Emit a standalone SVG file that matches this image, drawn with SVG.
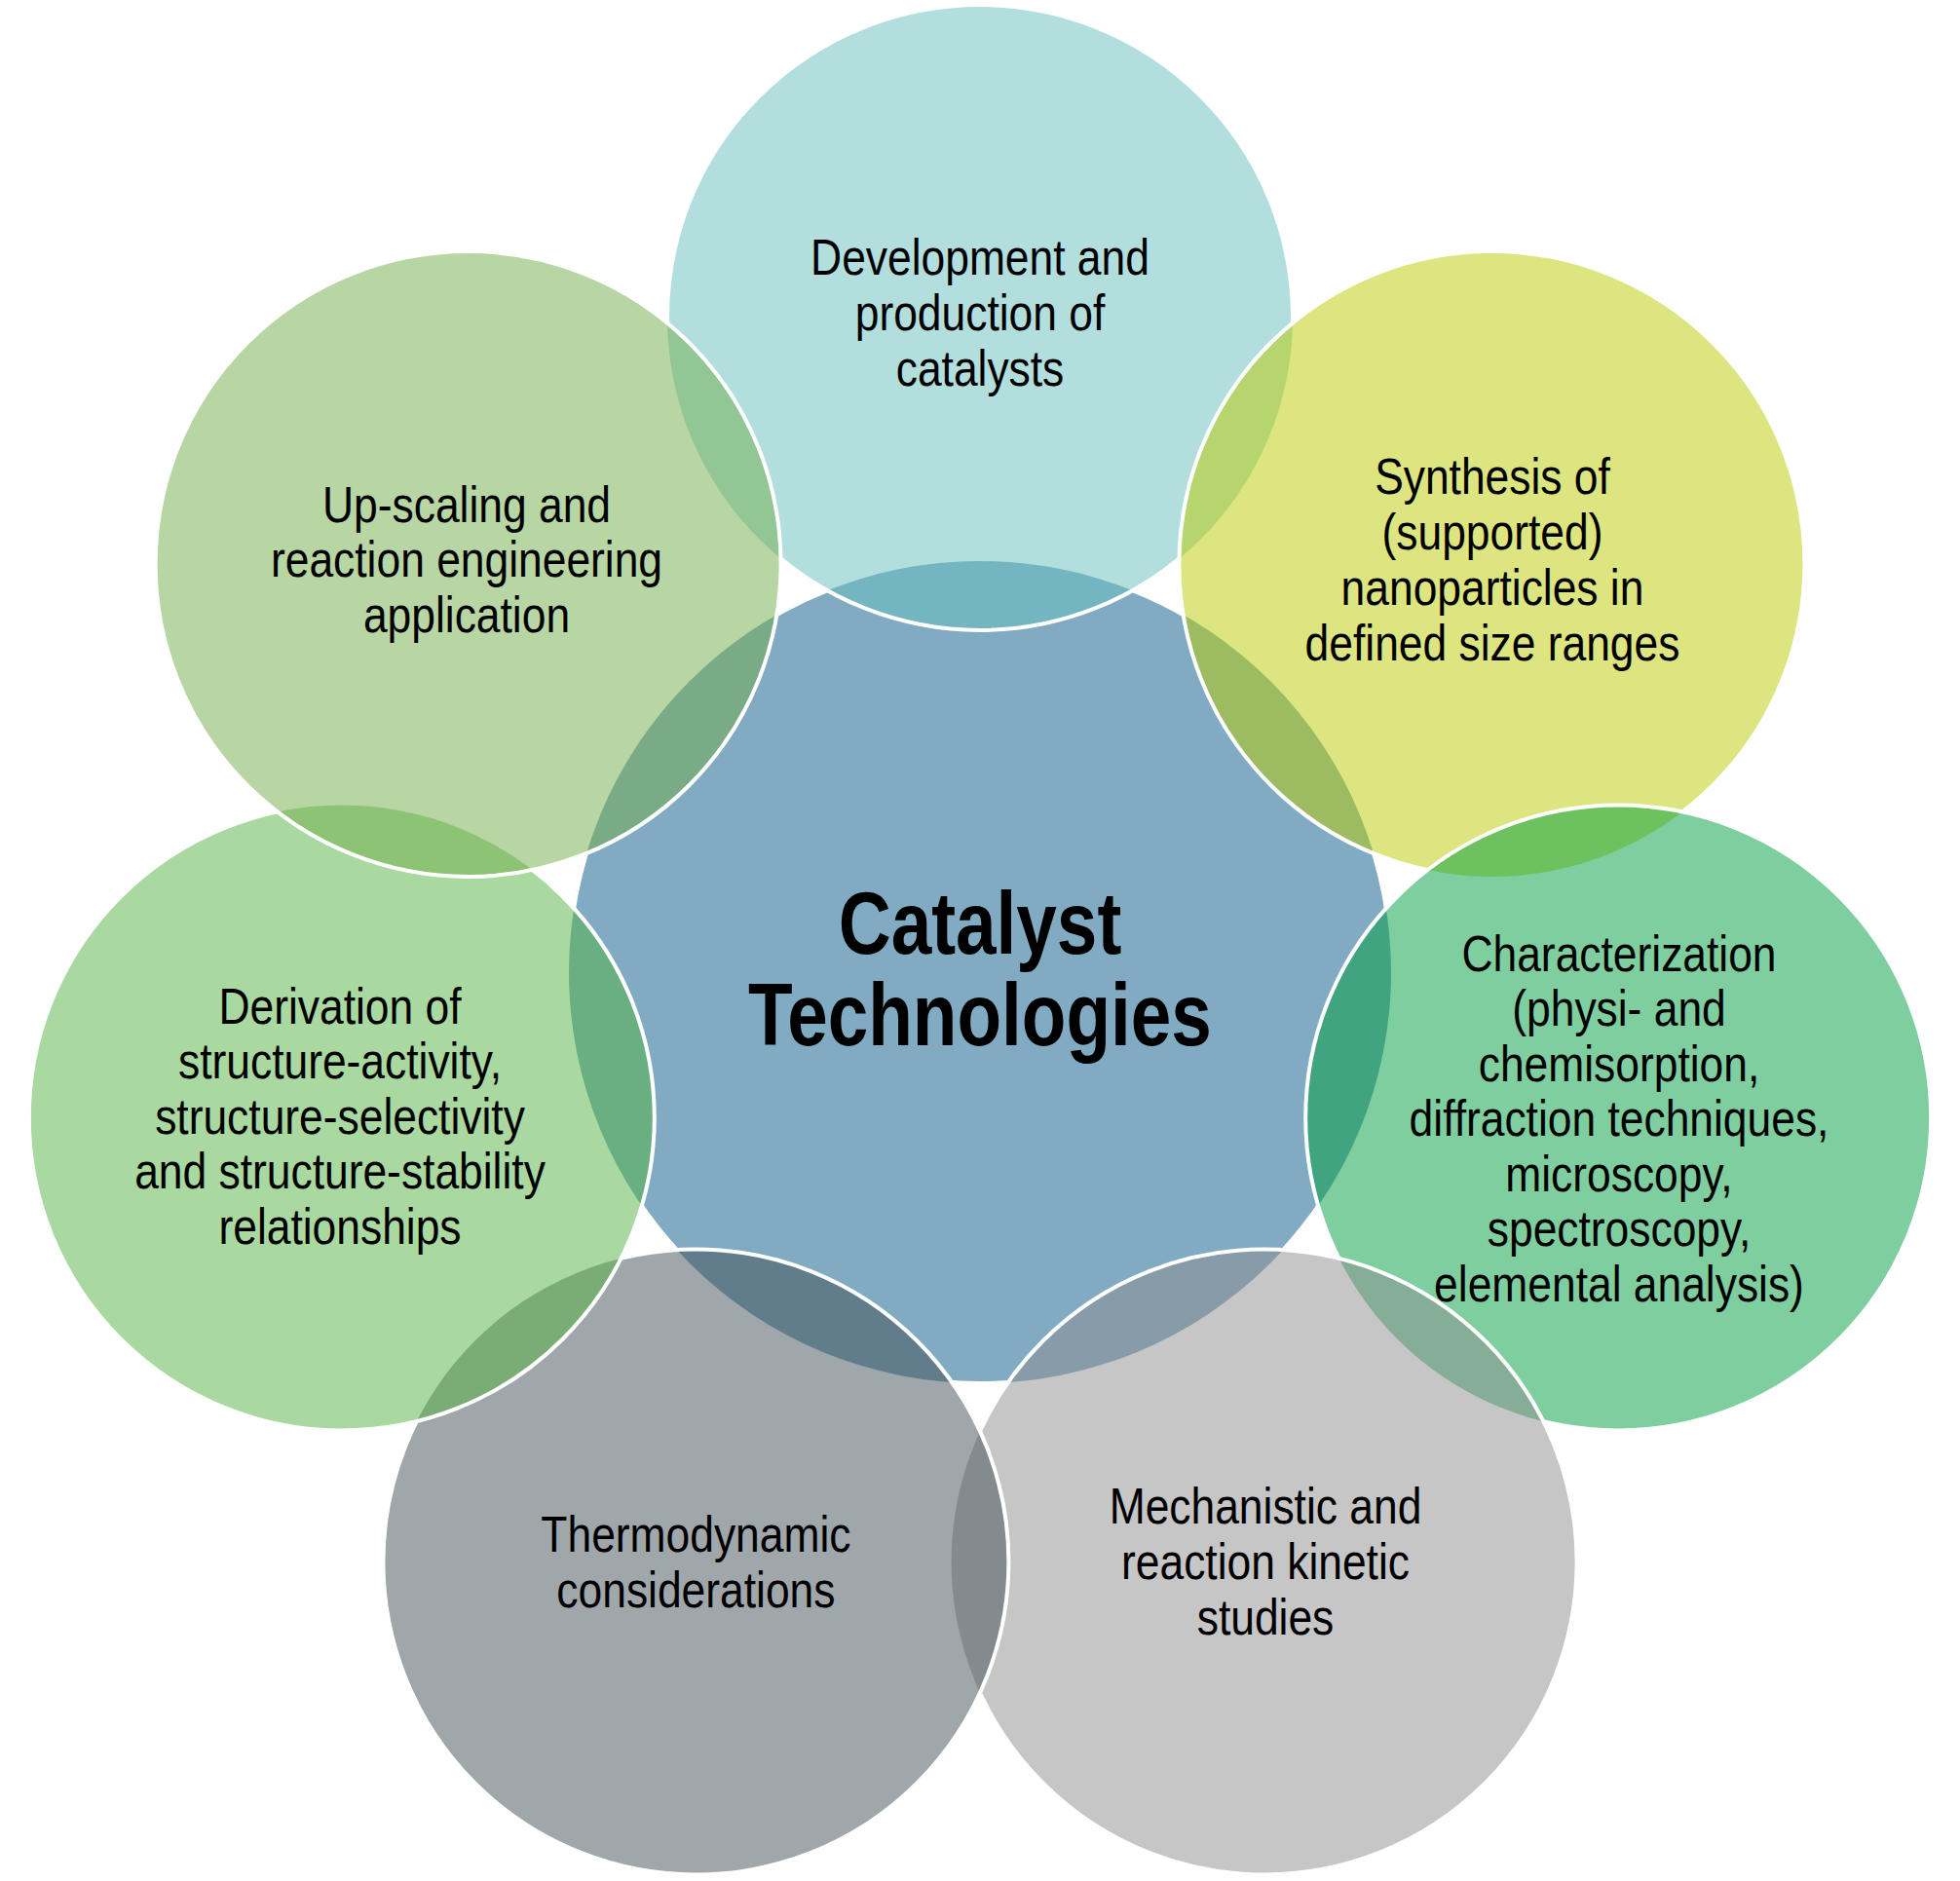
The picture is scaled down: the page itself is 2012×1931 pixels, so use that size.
<svg xmlns="http://www.w3.org/2000/svg" width="2012" height="1931" viewBox="0 0 2012 1931">
<style>
.fill{stroke:none;fill-opacity:0.5}
.edge{fill:none;stroke:#FFFFFF;stroke-width:4}
.lbl{font-family:"Liberation Sans",Arial,sans-serif;font-size:51px;fill:#000000;text-anchor:middle}
.title{font-family:"Liberation Sans",Arial,sans-serif;font-size:90px;font-weight:bold;fill:#000000;text-anchor:middle}
</style>
<defs>
<mask id="m0" maskUnits="userSpaceOnUse" x="0" y="0" width="2012" height="1931">
<rect width="2012" height="1931" fill="#fff"/>
<circle cx="1006" cy="326" r="321"/><circle cx="1531.4" cy="579" r="321"/><circle cx="1661.2" cy="1147.5" r="321"/><circle cx="1297.6" cy="1603.5" r="321"/><circle cx="714.4" cy="1603.5" r="321"/><circle cx="350.8" cy="1147.5" r="321"/><circle cx="480.6" cy="579" r="321"/>
</mask>
<mask id="m1" maskUnits="userSpaceOnUse" x="0" y="0" width="2012" height="1931">
<rect width="2012" height="1931" fill="#fff"/>
<circle cx="1531.4" cy="579" r="321"/><circle cx="1661.2" cy="1147.5" r="321"/><circle cx="1297.6" cy="1603.5" r="321"/><circle cx="714.4" cy="1603.5" r="321"/><circle cx="350.8" cy="1147.5" r="321"/><circle cx="480.6" cy="579" r="321"/>
</mask>
<mask id="m2" maskUnits="userSpaceOnUse" x="0" y="0" width="2012" height="1931">
<rect width="2012" height="1931" fill="#fff"/>
<circle cx="1661.2" cy="1147.5" r="321"/><circle cx="1297.6" cy="1603.5" r="321"/><circle cx="714.4" cy="1603.5" r="321"/><circle cx="350.8" cy="1147.5" r="321"/><circle cx="480.6" cy="579" r="321"/>
</mask>
<mask id="m3" maskUnits="userSpaceOnUse" x="0" y="0" width="2012" height="1931">
<rect width="2012" height="1931" fill="#fff"/>
<circle cx="1297.6" cy="1603.5" r="321"/><circle cx="714.4" cy="1603.5" r="321"/><circle cx="350.8" cy="1147.5" r="321"/><circle cx="480.6" cy="579" r="321"/>
</mask>
<mask id="m4" maskUnits="userSpaceOnUse" x="0" y="0" width="2012" height="1931">
<rect width="2012" height="1931" fill="#fff"/>
<circle cx="714.4" cy="1603.5" r="321"/><circle cx="350.8" cy="1147.5" r="321"/><circle cx="480.6" cy="579" r="321"/>
</mask>
<mask id="m5" maskUnits="userSpaceOnUse" x="0" y="0" width="2012" height="1931">
<rect width="2012" height="1931" fill="#fff"/>
<circle cx="350.8" cy="1147.5" r="321"/><circle cx="480.6" cy="579" r="321"/>
</mask>
<mask id="m6" maskUnits="userSpaceOnUse" x="0" y="0" width="2012" height="1931">
<rect width="2012" height="1931" fill="#fff"/>
<circle cx="480.6" cy="579" r="321"/>
</mask>
</defs>
<rect width="2012" height="1931" fill="#FFFFFF"/>
<g id="connectors"/>
<g id="node-center">
<circle class="fill" cx="1006" cy="998" r="422" fill="#015785"/>
<circle class="edge" cx="1006" cy="998" r="422" mask="url(#m0)"/>
<text class="title" transform="translate(1006,0) scale(0.83,1)"><tspan x="0" y="979">Catalyst</tspan><tspan x="0" y="1073">Technologies</tspan></text>
</g>
<g id="node-development">
<circle class="fill" cx="1006" cy="326" r="321" fill="#65BFBD"/>
<circle class="edge" cx="1006" cy="326" r="321" mask="url(#m1)"/>
<text class="lbl" transform="translate(1006,0) scale(0.87,1)"><tspan x="0" y="282">Development and</tspan><tspan x="0" dy="57">production of</tspan><tspan x="0" dy="57">catalysts</tspan></text>
</g>
<g id="node-synthesis">
<circle class="fill" cx="1531.4" cy="579" r="321" fill="#B9CB00"/>
<circle class="edge" cx="1531.4" cy="579" r="321" mask="url(#m2)"/>
<text class="lbl" transform="translate(1532,0) scale(0.87,1)"><tspan x="0" y="507">Synthesis of</tspan><tspan x="0" dy="57">(supported)</tspan><tspan x="0" dy="57">nanoparticles in</tspan><tspan x="0" dy="57">defined size ranges</tspan></text>
</g>
<g id="node-characterization">
<circle class="fill" cx="1661.2" cy="1147.5" r="321" fill="#009D3F"/>
<circle class="edge" cx="1661.2" cy="1147.5" r="321" mask="url(#m3)"/>
<text class="lbl" transform="translate(1662,0) scale(0.87,1)"><tspan x="0" y="997">Characterization</tspan><tspan x="0" dy="56.5">(physi- and</tspan><tspan x="0" dy="56.5">chemisorption,</tspan><tspan x="0" dy="56.5">diffraction techniques,</tspan><tspan x="0" dy="56.5">microscopy,</tspan><tspan x="0" dy="56.5">spectroscopy,</tspan><tspan x="0" dy="56.5">elemental analysis)</tspan></text>
</g>
<g id="node-mechanistic">
<circle class="fill" cx="1297.6" cy="1603.5" r="321" fill="#8D8D8D"/>
<circle class="edge" cx="1297.6" cy="1603.5" r="321" mask="url(#m4)"/>
<text class="lbl" transform="translate(1299,0) scale(0.87,1)"><tspan x="0" y="1564">Mechanistic and</tspan><tspan x="0" dy="57">reaction kinetic</tspan><tspan x="0" dy="57">studies</tspan></text>
</g>
<g id="node-thermodynamic">
<circle class="fill" cx="714.4" cy="1603.5" r="321" fill="#414F55"/>
<circle class="edge" cx="714.4" cy="1603.5" r="321" mask="url(#m5)"/>
<text class="lbl" transform="translate(714.4,0) scale(0.87,1)"><tspan x="0" y="1593">Thermodynamic</tspan><tspan x="0" dy="57">considerations</tspan></text>
</g>
<g id="node-derivation">
<circle class="fill" cx="350.8" cy="1147.5" r="321" fill="#53B341"/>
<circle class="edge" cx="350.8" cy="1147.5" r="321" mask="url(#m6)"/>
<text class="lbl" transform="translate(349,0) scale(0.87,1)"><tspan x="0" y="1051">Derivation of</tspan><tspan x="0" dy="56.5">structure-activity,</tspan><tspan x="0" dy="56.5">structure-selectivity</tspan><tspan x="0" dy="56.5">and structure-stability</tspan><tspan x="0" dy="56.5">relationships</tspan></text>
</g>
<g id="node-upscaling">
<circle class="fill" cx="480.6" cy="579" r="321" fill="#71AD49"/>
<circle class="edge" cx="480.6" cy="579" r="321"/>
<text class="lbl" transform="translate(479,0) scale(0.87,1)"><tspan x="0" y="536">Up-scaling and</tspan><tspan x="0" dy="56.5">reaction engineering</tspan><tspan x="0" dy="56.5">application</tspan></text>
</g>
</svg>
